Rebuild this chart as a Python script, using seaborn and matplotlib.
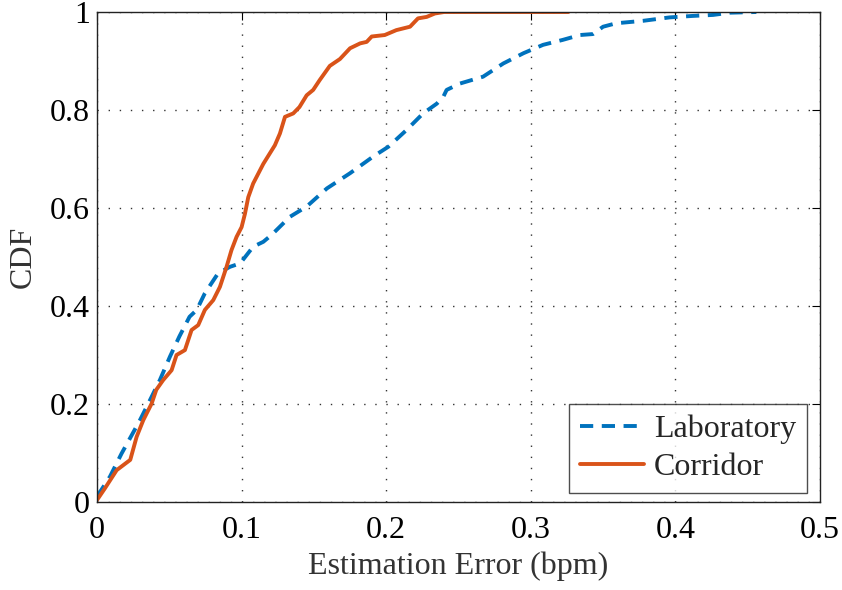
import matplotlib
matplotlib.use("Agg")
import matplotlib.pyplot as plt
import seaborn as sns
import pandas as pd

lab_x = [0.0, 0.009, 0.017, 0.026, 0.0297, 0.0355, 0.0435, 0.0505, 0.057, 0.064, 0.069, 0.0746,
         0.0838, 0.092, 0.099, 0.108, 0.115, 0.1207, 0.1334, 0.145, 0.159, 0.175, 0.191, 0.2015,
         0.214, 0.2255, 0.235, 0.2395, 0.2418, 0.251, 0.267, 0.281, 0.295, 0.3085, 0.322, 0.334,
         0.343, 0.350, 0.359, 0.3776, 0.396, 0.412, 0.426, 0.4378, 0.456]
lab_y = [0.011, 0.052, 0.099, 0.147, 0.167, 0.201, 0.249, 0.297, 0.338, 0.378, 0.392, 0.426,
         0.467, 0.480, 0.487, 0.521, 0.531, 0.545, 0.582, 0.603, 0.640, 0.671, 0.705, 0.725,
         0.759, 0.793, 0.813, 0.827, 0.841, 0.854, 0.868, 0.895, 0.916, 0.933, 0.943, 0.953,
         0.955, 0.970, 0.977, 0.982, 0.989, 0.992, 0.994, 0.9986, 1.0]

cor_x = [0.0, 0.0055, 0.0136, 0.023, 0.0274, 0.032, 0.0378, 0.041, 0.0458, 0.0516, 0.055, 0.0608,
         0.0654, 0.070, 0.0746, 0.0804, 0.085, 0.0896, 0.093, 0.0965, 0.100, 0.1023, 0.1046,
         0.108, 0.115, 0.123, 0.1265, 0.130, 0.1357, 0.140, 0.145, 0.1495, 0.154, 0.161, 0.168,
         0.175, 0.182, 0.1865, 0.190, 0.199, 0.207, 0.2165, 0.222, 0.228, 0.2337, 0.240, 0.326]
cor_y = [0.004, 0.028, 0.065, 0.086, 0.133, 0.167, 0.201, 0.229, 0.249, 0.269, 0.300, 0.310,
         0.351, 0.361, 0.392, 0.412, 0.439, 0.480, 0.514, 0.541, 0.561, 0.588, 0.622,
         0.650, 0.690, 0.728, 0.752, 0.786, 0.793, 0.806, 0.830, 0.841, 0.861, 0.890, 0.904,
         0.926, 0.936, 0.939, 0.950, 0.953, 0.963, 0.970, 0.987, 0.990, 0.997, 1.0, 1.0]

series_names = ["Laboratory", "Corridor"]
colors = ["#0072BD", "#D95319"]
xticks = [0, 0.1, 0.2, 0.3, 0.4, 0.5]
xtick_labels = ["0", "0.1", "0.2", "0.3", "0.4", "0.5"]
yticks = [0, 0.2, 0.4, 0.6, 0.8, 1]
ytick_labels = ["0", "0.2", "0.4", "0.6", "0.8", "1"]

sns.set_style("white")
plt.rcParams["font.family"] = ["Liberation Serif", "DejaVu Serif"]

df = pd.concat([
    pd.DataFrame({"x": lab_x, "y": lab_y, "series": series_names[0]}),
    pd.DataFrame({"x": cor_x, "y": cor_y, "series": series_names[1]}),
])

FS = 23
fig = plt.figure(figsize=(8.42, 5.90), dpi=100)
ax = fig.add_axes([97 / 842, 1 - 502 / 590, (820 - 97) / 842, (502 - 12) / 590])

sns.lineplot(data=df, x="x", y="y", hue="series", style="series",
             palette=dict(zip(series_names, colors)),
             dashes={series_names[0]: (3.4, 2.2), series_names[1]: ""},
             sort=False, estimator=None, linewidth=2.8, ax=ax, legend=True)

ax.set_xlim(0, 0.5)
ax.set_ylim(0, 1)
ax.set_xticks(xticks)
ax.set_xticklabels(xtick_labels)
ax.set_yticks(yticks)
ax.set_yticklabels(ytick_labels)
ax.tick_params(direction="in", length=5.5, width=0.8, labelsize=FS, top=True, right=True,
               colors="black", pad=5)
ax.tick_params(axis="x", pad=10)
for s in ax.spines.values():
    s.set_visible(True)
    s.set_color("#222222")
    s.set_linewidth(1.0)
ax.grid(True, linestyle=(0, (1, 7)), color="#333333", linewidth=1.0)
ax.set_xlabel("Estimation Error (bpm)", fontsize=FS, color="#333333")
ax.set_ylabel("CDF", fontsize=FS, color="#333333")
ax.xaxis.set_label_coords(0.5, -(566 - 502) / 490, transform=ax.transAxes)
ax.yaxis.set_label_coords(-(97 - 23) / 723, 0.5, transform=ax.transAxes)
ax.xaxis.label.set_va("center")
ax.yaxis.label.set_va("center")

leg = ax.legend(loc="lower right", fontsize=FS, frameon=True, fancybox=False,
                edgecolor="#222222", handlelength=2.0, handletextpad=0.3,
                borderpad=0.35, labelspacing=0.25, borderaxespad=0.0,
                bbox_to_anchor=((807 - 97) / 723, (502 - 493) / 490))
leg.get_frame().set_linewidth(1.0)
leg.set_title(None)

fig.savefig("out.png", dpi=100)
